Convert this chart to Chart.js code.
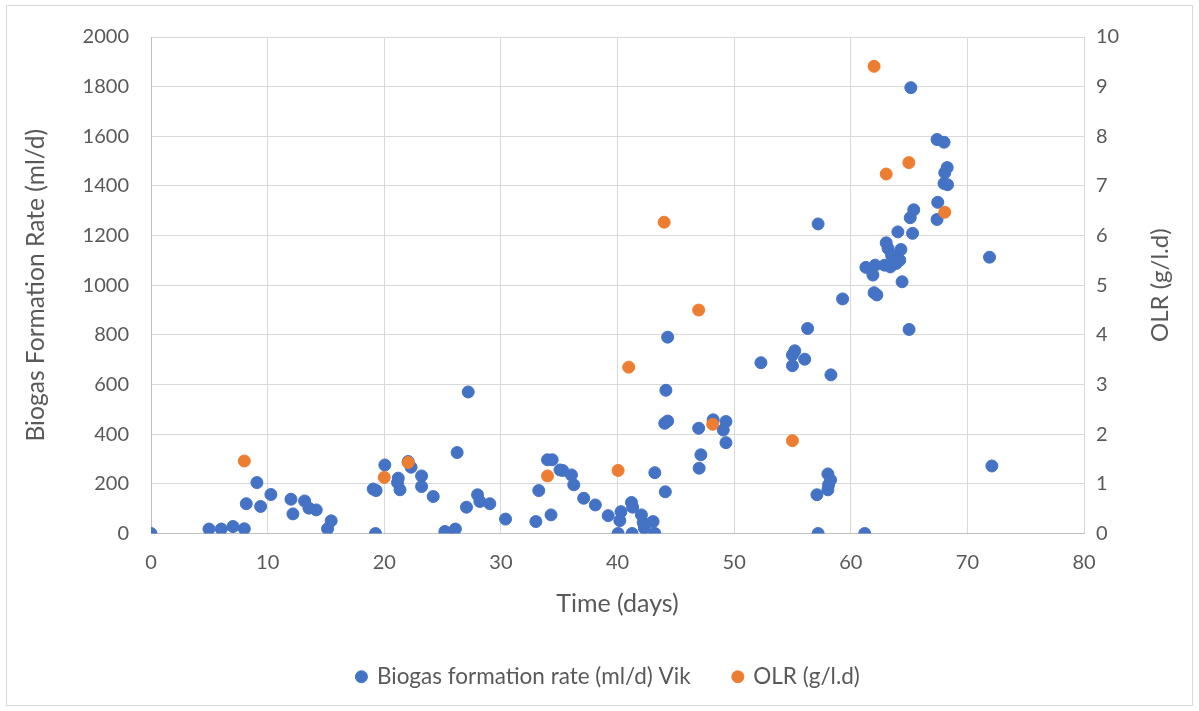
<!DOCTYPE html>
<html>
<head>
<meta charset="utf-8">
<script src="https://cdn.jsdelivr.net/npm/chart.js@4.4.1/dist/chart.umd.min.js"></script>
<style>
  html, body { margin: 0; padding: 0; background: #ffffff; }
  #wrap { position: relative; width: 1199px; height: 711px; }
  #wrap canvas { position: absolute; left: 0; top: 0; }
  #frame { position: absolute; left: 6px; top: 5px; width: 1187px; height: 701px;
           border: 1px solid #d9d9d9; box-sizing: border-box; pointer-events: none; }
</style>
</head>
<body>
<div id="wrap">
  <canvas id="chart" width="1199" height="711"></canvas>
  <div id="frame"></div>
</div>
<script>
// Daily biogas formation rate (ml/d), reactor "Vik"
const biogasDays = [
  0, 4.97, 6.03, 7.03, 8.0, 8.17, 9.08, 9.4, 10.28, 12.0, 12.17, 13.17, 13.54, 14.17, 15.14, 15.45,
  19.05, 19.25, 19.3, 20.05, 21.14, 21.2, 21.35, 22.05, 22.3, 23.2, 23.2, 24.2, 25.2, 26.1, 26.25,
  27.05, 27.2, 28.0, 28.2, 29.05, 30.4, 33.0, 33.25, 34.0, 34.3, 34.4, 35.07, 35.3, 36.05, 36.25,
  37.1, 38.1, 39.2, 40.05, 40.2, 40.3, 41.2, 41.25, 41.3, 42.05, 42.2, 42.3, 43.05, 43.2, 43.2,
  44.05, 44.1, 44.15, 44.3, 44.3, 46.96, 47.0, 47.15, 48.2, 49.07, 49.3, 49.3, 52.3, 55.0, 55.0,
  55.2, 56.05, 56.3, 57.1, 57.2, 57.2, 58.04, 58.04, 58.1, 58.27, 58.3, 59.3, 61.2, 61.3, 61.9,
  62.0, 62.1, 62.24, 62.9, 63.04, 63.2, 63.4, 63.5, 63.9, 64.04, 64.2, 64.3, 64.4, 65.0, 65.1,
  65.15, 65.3, 65.4, 67.4, 67.46, 67.4, 68.0, 68.0, 68.06, 68.27, 68.3, 71.9, 72.1
];
const biogasRate = [
  0, 18, 18, 28, 19, 120, 205, 109, 157, 138, 79, 131, 102, 95, 19, 51,
  179, 0, 173, 276, 205, 223, 176, 290, 267, 232, 189, 149, 8, 18, 326,
  106, 570, 156, 129, 120, 58, 48, 173, 297, 75, 297, 256, 254, 236, 196,
  142, 115, 72, 0, 52, 88, 125, 0, 106, 75, 44, 22, 48, 0, 245,
  444, 168, 577, 453, 791, 424, 263, 317, 458, 417, 451, 366, 688, 676, 719,
  736, 702, 826, 156, 0, 1247, 240, 176, 196, 216, 639, 945, 0, 1072, 1041,
  970, 1081, 961, 1081, 1171, 1148, 1074, 1121, 1088, 1215, 1101, 1144, 1014, 822, 1272,
  1796, 1209, 1304, 1265, 1334, 1587, 1576, 1410, 1453, 1474, 1405, 1113, 272
];

// Organic loading rate (g/l.d), right-hand axis
const olrDays = [8.0, 20.0, 22.05, 34.0, 40.05, 40.96, 44.0, 46.96, 48.16, 55.0, 62.0, 63.04, 64.98, 68.06];
const olrRate = [1.46, 1.13, 1.43, 1.16, 1.27, 3.35, 6.27, 4.50, 2.20, 1.87, 9.41, 7.24, 7.47, 6.47];

const seriesNames = ['Biogas formation rate (ml/d) Vik', 'OLR (g/l.d)'];
const axisTitles = { x: 'Time (days)', y: 'Biogas Formation Rate (ml/d)', y1: 'OLR (g/l.d)' };

const BLUE = '#4472C4';
const ORANGE = '#ED7D31';
const TEXT = '#595959';
const GRID = '#d9d9d9';
const AXIS = '#bfbfbf';
const FONT = 'Lato, "Open Sans", "DejaVu Sans", sans-serif';

const toPoints = (xs, ys) => xs.map((x, i) => ({ x: x, y: ys[i] }));
const plainNumber = (value) => String(value);

// Title of the secondary axis, written bottom-to-top like the primary one
const rightAxisTitle = {
  id: 'rightAxisTitle',
  afterDraw(chart, args, opts) {
    const { ctx, chartArea } = chart;
    const scale = chart.scales.y1;
    ctx.save();
    ctx.font = opts.font;
    ctx.fillStyle = opts.color;
    ctx.textAlign = 'center';
    ctx.textBaseline = 'middle';
    ctx.translate(scale.left + opts.offset, (chartArea.top + chartArea.bottom) / 2);
    ctx.rotate(-Math.PI / 2);
    ctx.fillText(opts.text, 0, 0);
    ctx.restore();
  }
};

new Chart(document.getElementById('chart'), {
  type: 'scatter',
  data: {
    datasets: [
      {
        label: seriesNames[0],
        data: toPoints(biogasDays, biogasRate),
        yAxisID: 'y',
        backgroundColor: BLUE,
        borderColor: BLUE,
        pointRadius: 6,
        pointBorderWidth: 1,
        order: 1
      },
      {
        label: seriesNames[1],
        data: toPoints(olrDays, olrRate),
        yAxisID: 'y1',
        backgroundColor: ORANGE,
        borderColor: ORANGE,
        pointRadius: 6,
        pointBorderWidth: 1,
        order: 0
      }
    ]
  },
  options: {
    responsive: false,
    animation: false,
    layout: { padding: { left: 24, right: 6, top: 37, bottom: 13 } },
    plugins: {
      tooltip: { enabled: false },
      legend: {
        position: 'bottom',
        labels: {
          usePointStyle: true,
          pointStyle: 'circle',
          boxWidth: 8.5,
          boxHeight: 8.5,
          padding: 43,
          color: TEXT,
          font: { family: FONT, size: 22.5 },
          sort: (a, b) => a.datasetIndex - b.datasetIndex
        }
      },
      rightAxisTitle: {
        text: axisTitles.y1,
        font: '24px ' + FONT,
        color: TEXT,
        offset: 76
      }
    },
    scales: {
      x: {
        type: 'linear',
        min: 0,
        max: 80,
        ticks: { stepSize: 10, padding: 17, color: TEXT, font: { family: FONT, size: 20 }, callback: plainNumber },
        grid: { color: GRID, lineWidth: 1, drawTicks: false },
        border: { color: AXIS, width: 1 },
        title: {
          display: true, text: axisTitles.x, color: TEXT,
          font: { family: FONT, size: 25 }, padding: { top: 0, bottom: 4 }
        },
        afterFit(scale) { scale.height = 89; }
      },
      y: {
        type: 'linear',
        position: 'left',
        min: 0,
        max: 2000,
        ticks: { stepSize: 200, padding: 22, color: TEXT, font: { family: FONT, size: 20 }, callback: plainNumber },
        grid: { color: GRID, lineWidth: 1, drawTicks: false },
        border: { color: AXIS, width: 1 },
        title: {
          display: true, text: axisTitles.y, color: TEXT,
          font: { family: FONT, size: 24.6, lineHeight: 1.0 }, padding: { top: 0, bottom: 0 }
        },
        afterFit(scale) { scale.width = 127; }
      },
      y1: {
        type: 'linear',
        position: 'right',
        min: 0,
        max: 10,
        ticks: { stepSize: 1, padding: 12, color: TEXT, font: { family: FONT, size: 20 }, callback: plainNumber },
        grid: { drawOnChartArea: false, drawTicks: false },
        border: { display: false },
        afterFit(scale) { scale.width = 109; }
      }
    }
  },
  plugins: [rightAxisTitle]
});
</script>
</body>
</html>
